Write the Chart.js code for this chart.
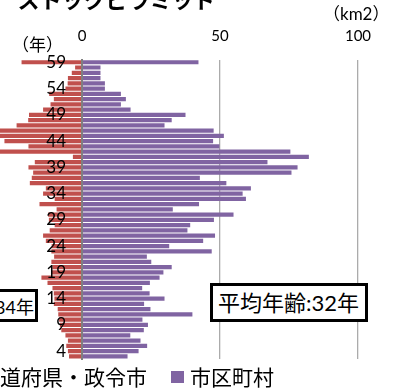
<!DOCTYPE html>
<html lang="ja">
<head>
<meta charset="utf-8">
<script src="https://cdn.jsdelivr.net/npm/chart.js@4.4.1/dist/chart.umd.min.js"></script>
<style>
  html, body { margin: 0; padding: 0; background: #fff; }
  #stage { position: relative; width: 398px; height: 392px; overflow: hidden;
           font-family: Lato, "Noto Sans CJK JP", sans-serif; color: #000; }
  #plot { position: absolute; left: -158px; top: -24px; width: 556px; height: 416px; }
  .unit { position: absolute; font-size: 17px; line-height: 20px; white-space: nowrap; }
  .callout { position: absolute; box-sizing: border-box; border: 3px solid #000; background: #fff;
             font-size: 22px; line-height: 22px; white-space: nowrap; display: flex; align-items: center; }
  .legend { position: absolute; font-size: 21px; line-height: 21px; white-space: nowrap;
            display: flex; align-items: center; }
  .swatch { display: inline-block; width: 13px; height: 12px; margin-right: 6px; }
</style>
</head>
<body>
<div id="stage">
  <canvas id="plot" width="556" height="416"></canvas>
  <div class="unit" style="left:12px; top:35px;">（年）</div>
  <div class="unit" style="left:323px; top:4px;">（km2）</div>
  <div class="callout" style="left:-125px; top:289px; width:163px; height:33px; justify-content:flex-end; padding-right:1px; padding-top:2px; font-size:18px; line-height:18px;">平均年齢:34年</div>
  <div class="callout" style="left:210px; top:283px; width:158px; height:39px; padding-left:5px;">平均年齢:32年</div>
  <div class="legend" style="left:-40px; top:366px;"><span class="swatch" style="background:#C0504D"></span>都道府県・政令市</div>
  <div class="legend" style="left:171px; top:366px;"><span class="swatch" style="background:#8064A2"></span>市区町村</div>
</div>
<script>
// Building age in years (oldest at the top)
const ageLabels = [59, 58, 57, 56, 55, 54, 53, 52, 51, 50,
                   49, 48, 47, 46, 45, 44, 43, 42, 41, 40,
                   39, 38, 37, 36, 35, 34, 33, 32, 31, 30,
                   29, 28, 27, 26, 25, 24, 23, 22, 21, 20,
                   19, 18, 17, 16, 15, 14, 13, 12, 11, 10,
                   9, 8, 7, 6, 5, 4, 3];

// 都道府県・政令市 floor area by age (km2), drawn to the left
const prefSeries = [21.9, 2.5, 3.7, 5.1, 5.2, 6.0, 11.9, 10.2, 11.4, 14.1,
                    19.2, 19.5, 23.7, 33.0, 35.0, 28.1, 19.4, 31.0, 3.3, 17.1,
                    19.4, 17.7, 18.2, 18.9, 13.1, 14.1, 9.9, 15.4, 9.2, 12.3,
                    12.0, 9.9, 11.7, 14.1, 13.1, 11.0, 11.1, 10.1, 11.1, 10.7,
                    11.0, 14.7, 12.5, 10.7, 10.2, 10.0, 10.2, 8.8, 8.6, 8.3,
                    8.0, 7.5, 6.0, 5.1, 5.7, 5.1, 4.7];

// 市区町村 floor area by age (km2), drawn to the right
const muniSeries = [42.2, 6.7, 6.7, 6.7, 8.3, 8.3, 14.1, 15.9, 14.1, 17.6,
                    37.5, 32.5, 29.9, 47.7, 51.4, 47.5, 49.8, 75.5, 82.2, 67.2,
                    78.1, 75.9, 42.7, 52.3, 61.2, 58.2, 59.4, 42.4, 32.9, 54.9,
                    47.8, 39.2, 38.2, 48.2, 43.9, 31.6, 47.0, 23.5, 25.1, 32.5,
                    29.5, 28.1, 24.6, 21.8, 24.5, 29.9, 22.5, 24.8, 40.0, 21.9,
                    23.9, 22.4, 17.5, 21.2, 23.6, 20.5, 16.5];

const seriesNames = ['都道府県・政令市', '市区町村'];
const seriesColors = ['#C0504D', '#8064A2'];

new Chart(document.getElementById('plot'), {
  type: 'bar',
  data: {
    labels: ageLabels.map(String),
    datasets: [
      { label: seriesNames[0], data: prefSeries.map(v => -v), backgroundColor: seriesColors[0],
        barPercentage: 0.78, categoryPercentage: 1.0 },
      { label: seriesNames[1], data: muniSeries, backgroundColor: seriesColors[1],
        barPercentage: 0.78, categoryPercentage: 1.0 }
    ]
  },
  options: {
    indexAxis: 'y',
    responsive: false,
    devicePixelRatio: 1,
    animation: false,
    events: [],
    layout: { padding: { left: 33, right: 40, top: 0, bottom: 33 } },
    plugins: {
      legend: { display: false },
      tooltip: { enabled: false },
      title: {
        display: true,
        text: 'ストックピラミッド',
        color: '#000',
        font: { family: "'Noto Sans CJK JP'", size: 22, weight: 'bold' },
        padding: { top: 10, bottom: 15.3 }
      }
    },
    scales: {
      x: {
        position: 'top',
        stacked: true,
        min: -75,
        max: 100,
        afterFit: (scale) => { scale.height = 32; },
        ticks: {
          stepSize: 50,
          color: '#000',
          font: { family: 'Lato', size: 15 },
          padding: 15,
          callback: (v) => Math.abs(v)
        },
        grid: {
          drawTicks: false,
          lineWidth: 1.3,
          color: (ctx) => (ctx.tick && ctx.tick.value === 0) ? 'rgba(0,0,0,0)' : '#ABABAB'
        },
        border: { display: false }
      },
      // category axis line at zero
      y: {
        position: { x: 0 },
        stacked: true,
        offset: true,
        grid: { display: false },
        border: { display: true, color: '#808080', width: 2, z: 1 },
        ticks: { display: false }
      },
      // age labels, set a little to the left of the zero line
      yLabels: {
        type: 'category',
        axis: 'y',
        position: { x: -5.8 },
        offset: true,
        grid: { display: false },
        border: { display: false },
        ticks: {
          autoSkip: false,
          color: '#000',
          font: { family: 'Lato', size: 17 },
          z: 1,
          callback: (v, i) => (ageLabels[i] % 5 === 4 ? String(ageLabels[i]) : '')
        }
      }
    }
  }
});
</script>
</body>
</html>
